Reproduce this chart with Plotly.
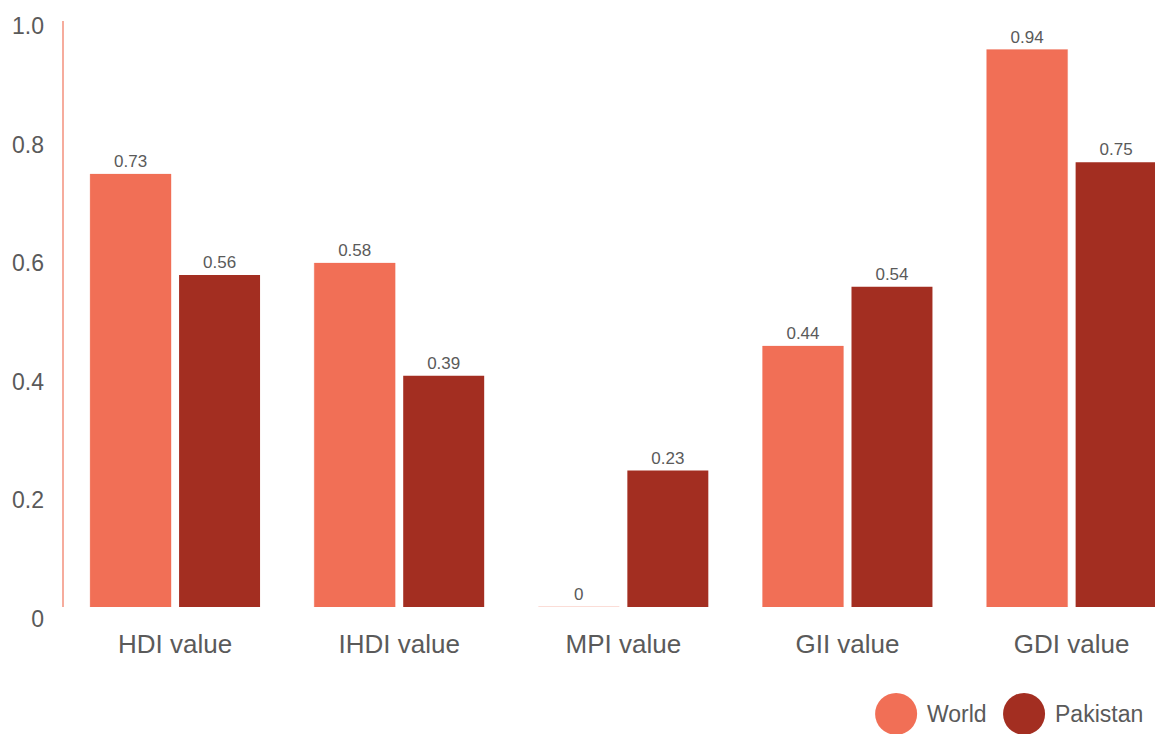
import plotly.graph_objects as go

# Index values by country group
categories = ["HDI value", "IHDI value", "MPI value", "GII value", "GDI value"]
series_names = ["World", "Pakistan"]
world_values = [0.73, 0.58, 0, 0.44, 0.94]
pakistan_values = [0.56, 0.39, 0.23, 0.54, 0.75]
y_tick_values = [0, 0.2, 0.4, 0.6, 0.8, 1.0]
y_tick_labels = ["0", "0.2", "0.4", "0.6", "0.8", "1.0"]

colors = ["#f16f56", "#a32e21"]
outline_colors = ["rgba(241,111,86,0.25)", "rgba(163,46,33,0)"]
text_grey = "#5a5a5a"
font_family = "Liberation Sans, Arial, sans-serif"

W, H = 1155, 734
margin_l, margin_r, margin_t, margin_b = 62.5, 0, 13.5, 127

fig = go.Figure()
for name, vals, col, oc in zip(series_names, [world_values, pakistan_values], colors, outline_colors):
    fig.add_trace(go.Bar(
        x=categories,
        y=vals,
        name=name,
        marker=dict(color=col, line=dict(width=1, color=oc)),
        text=[f"{v:g}" for v in vals],
        textposition="outside",
        textfont=dict(size=17, color=text_grey, family=font_family),
        cliponaxis=False,
        showlegend=False,
    ))

# Left axis line in the accent colour
fig.add_shape(type="line", xref="paper", yref="y", x0=0, x1=0, y0=0, y1=0.988,
              line=dict(color="#f3907c", width=1.5))

# Legend: circle swatch + label for each series
plot_w = W - margin_l - margin_r
plot_h = H - margin_t - margin_b
legend_centers_px = [896, 1024]
legend_y_px = 714
for name, col, cx in zip(series_names, colors, legend_centers_px):
    xp = (cx - margin_l) / plot_w
    yp = (H - margin_b - legend_y_px) / plot_h
    fig.add_shape(type="circle", xref="paper", yref="paper",
                  xsizemode="pixel", ysizemode="pixel",
                  xanchor=xp, yanchor=yp, x0=-21, x1=21, y0=-21, y1=21,
                  fillcolor=col, line=dict(width=0))
    fig.add_annotation(xref="paper", yref="paper", x=(cx + 29 - margin_l) / plot_w, y=yp,
                       text=name, showarrow=False, xanchor="left", yanchor="middle",
                       font=dict(size=23, color=text_grey, family=font_family))

fig.update_layout(
    width=W, height=H,
    margin=dict(l=margin_l, r=margin_r, t=margin_t, b=margin_b, pad=0),
    plot_bgcolor="white", paper_bgcolor="white",
    barmode="group",
    bargap=0.206,
    bargroupgap=0.09,
    font=dict(family=font_family, color=text_grey),
)
fig.update_xaxes(
    range=[-0.5, 4.372],
    showgrid=False, showline=False, zeroline=False, ticks="",
    ticklabelstandoff=19,
    tickfont=dict(size=26, color=text_grey, family=font_family),
)
fig.update_yaxes(
    range=[0, 1.0],
    tickvals=y_tick_values, ticktext=y_tick_labels,
    showgrid=False, showline=False, zeroline=False, ticks="",
    ticklabelposition="outside",
    ticklabelshift=12,
    ticklabelstandoff=18,
    tickfont=dict(size=23, color=text_grey, family=font_family),
)

fig.write_html("out.html")
